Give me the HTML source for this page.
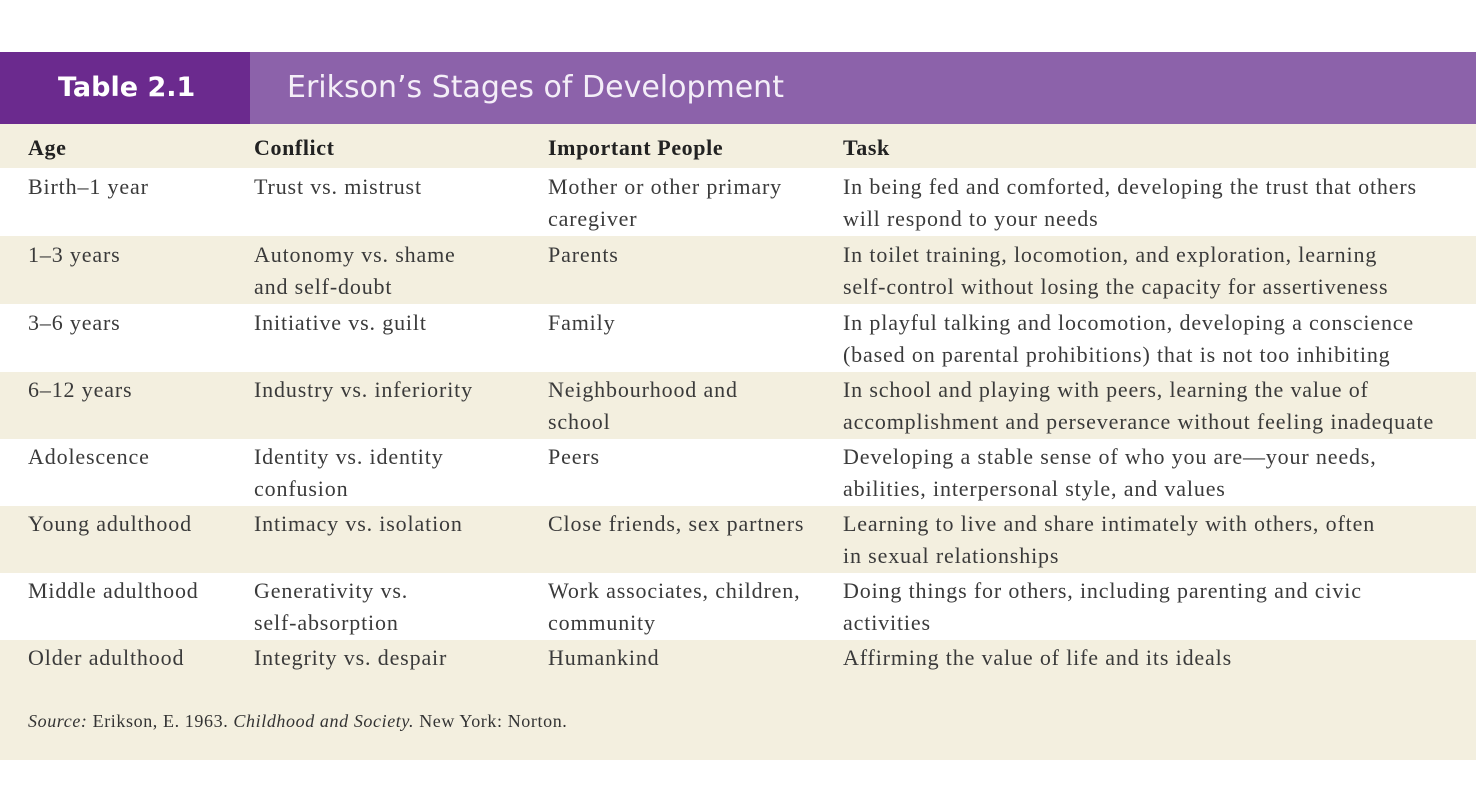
<!DOCTYPE html>
<html><head><style>
body{margin:0;width:1476px;height:812px;background:#fff;position:relative;overflow:hidden;font-family:"Liberation Serif",serif;color:#3a3a3a}
.bar{position:absolute;top:52px;height:72px;left:0;width:1476px;background:#8c62aa}
.dark{position:absolute;top:52px;height:72px;left:0;width:250px;background:#6b2a8e}
.t1{position:absolute;left:58px;top:72px;font:bold 27px "DejaVu Sans",sans-serif;color:#fff}
.t2{position:absolute;left:287px;top:70px;font:30px "DejaVu Sans",sans-serif;color:#f4eef8}
.row{position:absolute;left:0;width:1476px}
.c{background:#f3efdf}
.cell{position:absolute;font-size:22px;line-height:32px;letter-spacing:0.85px;white-space:nowrap}
.h{font-weight:bold;color:#222;letter-spacing:0.6px}
</style></head><body>
<div class="bar"></div><div class="dark"></div>
<div class="t1">Table 2.1</div>
<div class="t2">Erikson’s Stages of Development</div>

<div class="row c" style="top:124px;height:44px"></div>
<div class="row c" style="top:236px;height:68px"></div>
<div class="row c" style="top:372px;height:67px"></div>
<div class="row c" style="top:506px;height:67px"></div>
<div class="row c" style="top:640px;height:120px"></div>

<div class="cell h" style="left:28px;top:132px">Age</div>
<div class="cell h" style="left:254px;top:132px">Conflict</div>
<div class="cell h" style="left:548px;top:132px">Important People</div>
<div class="cell h" style="left:843px;top:132px">Task</div>

<div class="cell" style="left:28px;top:171px">Birth–1 year</div>
<div class="cell" style="left:254px;top:171px">Trust vs. mistrust</div>
<div class="cell" style="left:548px;top:171px">Mother or other primary<br>caregiver</div>
<div class="cell" style="left:843px;top:171px">In being fed and comforted, developing the trust that others<br>will respond to your needs</div>

<div class="cell" style="left:28px;top:239px">1–3 years</div>
<div class="cell" style="left:254px;top:239px">Autonomy vs. shame<br>and self-doubt</div>
<div class="cell" style="left:548px;top:239px">Parents</div>
<div class="cell" style="left:843px;top:239px">In toilet training, locomotion, and exploration, learning<br>self-control without losing the capacity for assertiveness</div>

<div class="cell" style="left:28px;top:307px">3–6 years</div>
<div class="cell" style="left:254px;top:307px">Initiative vs. guilt</div>
<div class="cell" style="left:548px;top:307px">Family</div>
<div class="cell" style="left:843px;top:307px">In playful talking and locomotion, developing a conscience<br>(based on parental prohibitions) that is not too inhibiting</div>

<div class="cell" style="left:28px;top:374px">6–12 years</div>
<div class="cell" style="left:254px;top:374px">Industry vs. inferiority</div>
<div class="cell" style="left:548px;top:374px">Neighbourhood and<br>school</div>
<div class="cell" style="left:843px;top:374px">In school and playing with peers, learning the value of<br>accomplishment and perseverance without feeling inadequate</div>

<div class="cell" style="left:28px;top:441px">Adolescence</div>
<div class="cell" style="left:254px;top:441px">Identity vs. identity<br>confusion</div>
<div class="cell" style="left:548px;top:441px">Peers</div>
<div class="cell" style="left:843px;top:441px">Developing a stable sense of who you are—your needs,<br>abilities, interpersonal style, and values</div>

<div class="cell" style="left:28px;top:508px">Young adulthood</div>
<div class="cell" style="left:254px;top:508px">Intimacy vs. isolation</div>
<div class="cell" style="left:548px;top:508px">Close friends, sex partners</div>
<div class="cell" style="left:843px;top:508px">Learning to live and share intimately with others, often<br>in sexual relationships</div>

<div class="cell" style="left:28px;top:575px">Middle adulthood</div>
<div class="cell" style="left:254px;top:575px">Generativity vs.<br>self-absorption</div>
<div class="cell" style="left:548px;top:575px">Work associates, children,<br>community</div>
<div class="cell" style="left:843px;top:575px">Doing things for others, including parenting and civic<br>activities</div>

<div class="cell" style="left:28px;top:642px">Older adulthood</div>
<div class="cell" style="left:254px;top:642px">Integrity vs. despair</div>
<div class="cell" style="left:548px;top:642px">Humankind</div>
<div class="cell" style="left:843px;top:642px">Affirming the value of life and its ideals</div>

<div class="cell" style="left:28px;top:705px;font-size:18px;letter-spacing:0.6px;color:#333"><i>Source:</i> Erikson, E. 1963. <i>Childhood and Society.</i> New York: Norton.</div>
</body></html>
